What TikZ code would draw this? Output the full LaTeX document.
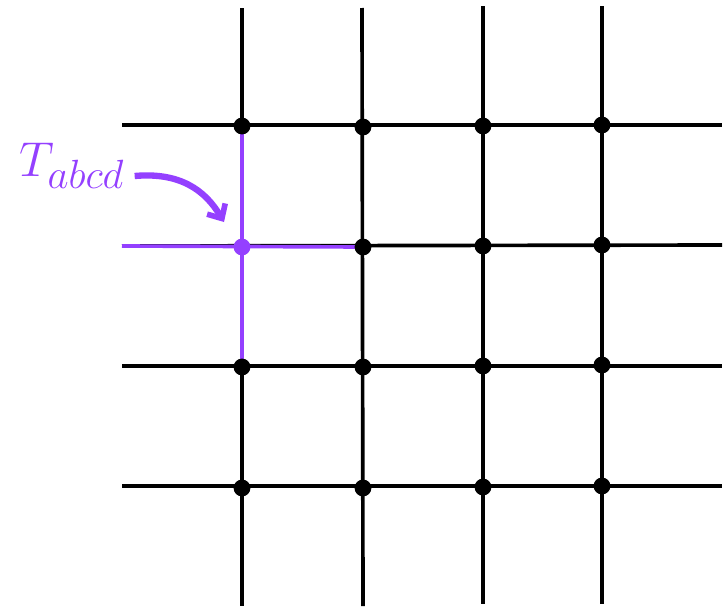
\documentclass[tikz,border=0pt]{standalone}
\usetikzlibrary{arrows.meta,calc}
\definecolor{vio}{RGB}{148,64,255}
\begin{document}
\begin{tikzpicture}[x=0.05cm,y=-0.05cm,
  gridline/.style={line width=5.2pt,black},
  vline/.style={line width=5.2pt,vio},
  dotb/.style={circle,fill=black,inner sep=0pt,minimum size=24pt},
  dotv/.style={circle,fill=vio,inner sep=0pt,minimum size=24pt}]
\useasboundingbox (0,0) rectangle (727,608);
% end coordinates
\coordinate (v1t) at (242,8);   \coordinate (v1b) at (242,606);
\coordinate (v2t) at (362,8);   \coordinate (v2b) at (363,606);
\coordinate (v3t) at (483,6);   \coordinate (v3b) at (483,604);
\coordinate (v4t) at (602,6);   \coordinate (v4b) at (602,604);
\coordinate (h1l) at (122,125); \coordinate (h1r) at (722,125);
\coordinate (h2l) at (122,246); \coordinate (h2r) at (722,245);
\coordinate (h3l) at (122,366); \coordinate (h3r) at (722,366);
\coordinate (h4l) at (122,486); \coordinate (h4r) at (722,486);
\coordinate (p11) at (242,126); \coordinate (p22) at (363,247);
\coordinate (p31) at (242,367);
\draw[gridline] (v1t) -- (v1b);
\draw[gridline] (v2t) -- (v2b);
\draw[gridline] (v3t) -- (v3b);
\draw[gridline] (v4t) -- (v4b);
\draw[gridline] (h1l) -- (h1r);
\draw[gridline] (h2l) -- (h2r);
\draw[gridline] (h3l) -- (h3r);
\draw[gridline] (h4l) -- (h4r);
% purple tensor legs
\draw[vline] (h2l) -- (p22);
\draw[vline] (p11) -- (p31);
% dots
\node[dotb] (d11) at (p11) {};
\node[dotb] (d12) at (363,127) {};
\node[dotb] (d13) at (483,126) {};
\node[dotb] (d14) at (602,125) {};
\node[dotb] (d22) at (p22) {};
\node[dotb] (d23) at (483,246) {};
\node[dotb] (d24) at (602,245) {};
\node[dotb] (d31) at (p31) {};
\node[dotb] (d32) at (363,367) {};
\node[dotb] (d33) at (483,366) {};
\node[dotb] (d34) at (602,365) {};
\node[dotb] (d41) at (242,488) {};
\node[dotb] (d42) at (363,488) {};
\node[dotb] (d43) at (483,487) {};
\node[dotb] (d44) at (602,486) {};
\node[dotv] (dv) at (242,247) {};
% label
\node[text=vio,font=\Huge,inner sep=0pt] (lab) at (72,166) {\scalebox{2.8}{$T_{abcd}$}};
\draw[vio,line width=9pt,-{Straight Barb[length=16pt,width=30pt,line width=8pt]}]
  ($(lab.east)+(10,10)$) .. controls (180,172) and (205,190) .. (224,222);
\end{tikzpicture}
\end{document}
